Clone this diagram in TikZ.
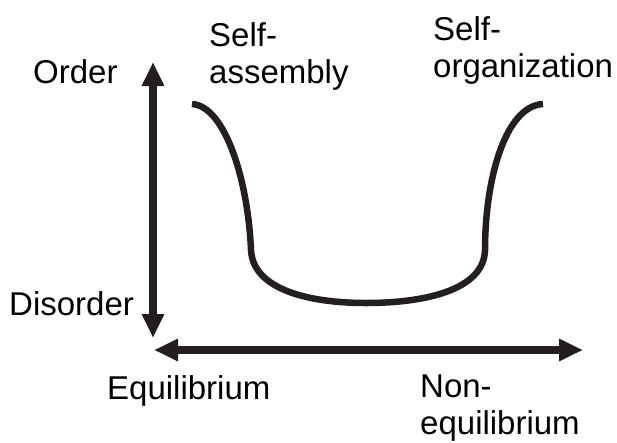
\documentclass[tikz,border=0pt]{standalone}
\usepackage{fontspec}
\setmainfont{Liberation Sans}
\usepackage{tikz}
\usetikzlibrary{arrows.meta}
\definecolor{axisblack}{HTML}{231F20}

\begin{document}
\begin{tikzpicture}[x=1pt,y=-1pt,
  lbl/.style={inner sep=0pt,anchor=base west,align=left,font=\fontsize{33}{37}\selectfont},
  axis/.style={axisblack,line width=7.5pt,{Triangle[length=24pt,width=21pt]}-{Triangle[length=24pt,width=21pt]}},
  trend/.style={axisblack,line width=6.5pt}]
\useasboundingbox (0,0) rectangle (617,442);
\coordinate (ordtop) at (153,62);
\coordinate (ordbot) at (153,338);
\coordinate (eqleft) at (154,350);
\coordinate (eqright) at (583,350);
\draw[axis] (ordbot) -- (ordtop);
\draw[axis] (eqleft) -- (eqright);
\draw[trend] (192,104) .. controls (225,106) and (248,180) .. (251,250)
  .. controls (253,290) and (310,303) .. (366,303)
  .. controls (425,303) and (484,290) .. (485,250)
  .. controls (485,180) and (505,106) .. (543,104);
\node[lbl] (order) at (33,83) {Order};
\node[lbl] (disorder) at (9,315) {Disorder};
\node[lbl] (assembly) at (209,83) {Self-\\assembly};
\node[lbl] (organization) at (433,77) {Self-\\organization};
\node[lbl] (equilibrium) at (107,399) {Equilibrium};
\node[lbl] (nonequilibrium) at (420,434) {Non-\\equilibrium};
\end{tikzpicture}
\end{document}
